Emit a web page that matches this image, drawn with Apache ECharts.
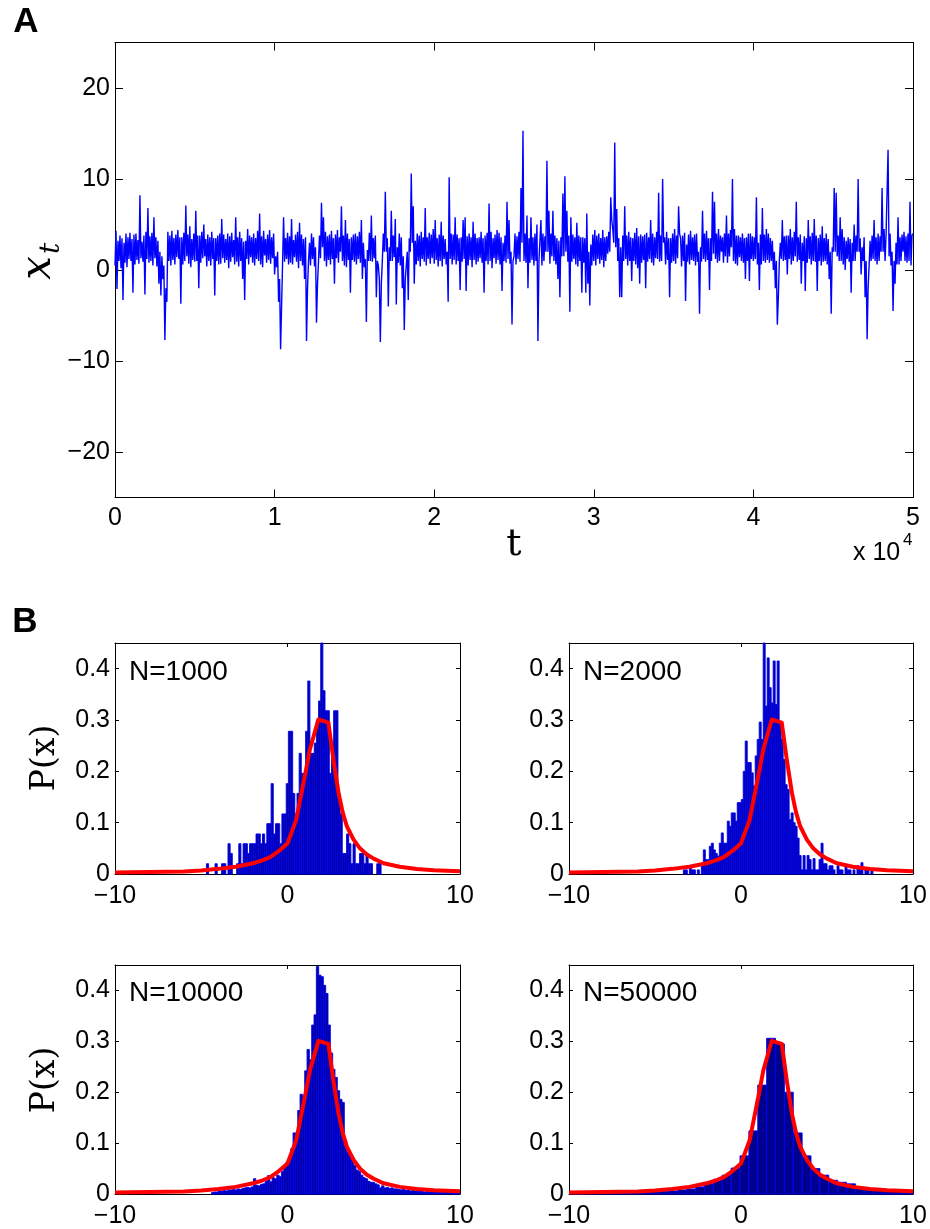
<!DOCTYPE html>
<html><head><meta charset="utf-8">
<script src="https://cdn.jsdelivr.net/npm/echarts@6/dist/echarts.min.js"></script>
<style>html,body{margin:0;padding:0;background:#fff}#c{width:930px;height:1229px}</style>
</head><body><div id="c"></div>
<script>
// ---------- Panel A: time series (one reading every 62.5 time steps) ----------
const tsStep = 62.5;
const tsValues = [
0.5,4.3,-2.1,3.2,1.0,3.8,0.2,3.5,-3.3,3.0,0.8,4.0,0.3,3.6,1.2,4.1,
1.0,3.4,-2.5,3.9,0.6,4.0,1.1,3.3,0.7,8.2,1.3,3.1,0.9,3.8,-2.7,4.2,
1.2,6.8,0.8,3.7,1.0,4.1,0.5,5.8,1.3,3.6,0.4,3.2,-1.5,2.0,-2.8,1.5,
-1.0,0.5,-7.7,-2.0,-3.5,4.2,1.0,3.8,0.5,4.3,1.1,3.5,0.6,3.9,1.4,4.4,
1.2,3.6,-3.7,3.6,0.6,4.1,1.0,7.1,1.5,3.9,0.7,4.8,0.3,3.4,1.1,4.0,
0.9,6.5,1.0,3.8,-2.0,3.8,0.8,4.2,1.3,5.0,1.5,3.4,0.4,3.9,1.0,3.6,
0.5,4.2,1.2,3.5,-2.8,3.5,1.0,3.8,0.6,4.0,0.7,5.6,1.3,3.9,0.8,3.4,
1.1,4.0,0.2,3.7,0.9,4.1,1.4,3.3,0.6,5.8,0.9,3.6,0.4,4.2,1.0,3.5,
-1.0,3.1,-3.3,3.2,1.2,4.5,0.6,3.8,1.4,3.6,0.8,4.0,0.5,3.5,1.2,4.3,
1.0,6.2,0.6,3.7,0.3,4.3,1.6,3.4,0.8,3.9,1.1,4.4,0.7,3.6,1.3,4.0,
-0.5,1.5,0.3,2.0,-3.5,-1.0,-8.7,-4.0,0.8,5.8,0.9,3.5,1.2,4.1,0.6,3.7,
0.8,5.6,0.6,3.3,1.4,3.9,0.9,4.2,0.2,5.2,1.0,3.9,0.5,3.4,-1.0,3.6,
-7.8,-2.0,1.0,3.0,0.5,4.0,1.2,3.6,0.4,2.5,-5.8,-1.5,0.9,3.8,1.3,7.4,
2.5,5.8,1.0,4.2,0.4,3.7,1.1,3.9,0.6,4.3,1.2,3.5,-1.5,3.9,1.3,4.4,
0.8,3.6,2.0,7.0,1.0,3.8,0.5,5.5,0.3,4.0,1.1,3.4,-2.5,3.6,1.1,3.9,
0.9,4.0,0.6,3.7,1.2,4.2,0.8,5.5,-1.0,3.0,0.3,1.2,-5.7,2.2,1.0,4.1,
1.0,6.0,0.9,3.5,1.3,3.8,-3.0,1.0,0.5,-1.0,-7.9,-1.5,1.0,4.0,2.0,8.6,
2.0,3.5,-4.0,2.5,1.0,6.5,1.0,3.8,1.4,5.6,-3.8,2.5,0.8,4.0,0.5,3.6,
-2.0,1.5,-6.6,-1.0,0.5,2.0,-3.3,3.5,2.0,10.6,3.0,7.0,-1.5,3.2,0.6,4.0,
1.0,3.8,0.4,4.2,1.2,3.6,0.9,6.8,0.5,3.6,1.2,4.1,0.7,3.9,1.3,4.5,
0.7,5.5,1.1,3.5,0.4,3.9,1.0,5.3,0.4,3.8,1.2,3.4,0.6,2.0,-3.5,10.2,
1.2,4.0,0.6,3.9,1.1,5.8,0.6,3.9,1.0,3.5,-2.2,3.6,0.9,5.5,1.2,5.8,
-2.3,3.7,0.5,4.0,1.1,3.6,0.3,5.3,1.1,4.0,0.6,3.5,0.9,3.6,1.3,4.2,
0.8,3.5,-2.5,3.8,1.0,4.1,0.6,7.3,1.0,4.2,0.2,3.5,1.3,3.9,0.7,4.4,
1.1,4.1,0.6,3.6,-2.3,3.0,1.0,3.8,0.8,7.5,1.2,5.5,0.7,2.0,-6.0,1.0,
1.5,4.0,0.6,3.7,1.2,4.2,0.9,9.0,3.0,15.3,1.0,4.0,0.8,6.0,-2.0,3.5,
0.8,5.8,1.1,3.6,0.5,4.0,1.0,5.0,-7.8,1.0,1.2,5.5,0.5,4.0,1.0,3.7,
2.0,12.0,2.0,6.5,0.7,4.0,1.5,6.5,1.0,3.8,0.6,3.5,-1.0,3.2,-3.0,3.6,
1.5,8.4,1.5,10.3,2.0,6.5,0.9,3.8,-4.6,5.8,0.9,3.9,1.2,3.6,0.6,5.2,
0.4,3.8,1.0,3.6,-2.5,3.6,0.8,3.5,-2.5,6.2,-1.5,2.0,-3.9,2.8,0.5,3.9,
1.0,4.4,0.5,3.8,1.2,4.0,0.7,3.5,1.1,4.4,0.3,3.6,1.0,3.7,1.8,4.2,
2.0,8.0,5.5,4.5,3.0,14.0,2.5,6.7,1.0,3.5,-3.0,2.5,-3.0,3.8,1.0,7.0,
1.2,3.8,0.5,4.2,1.0,3.6,-1.2,3.5,1.0,4.1,0.6,4.6,0.2,3.7,-1.5,3.9,
0.8,3.7,1.1,3.9,-2.0,4.1,0.9,3.6,1.2,5.5,0.8,4.0,0.5,3.6,1.3,4.2,
1.2,8.5,0.9,3.8,1.0,10.0,3.0,3.6,0.6,4.2,1.1,3.5,-3.0,3.5,0.8,4.0,
1.0,4.5,0.7,3.8,1.3,7.0,4.0,3.5,0.4,3.8,1.0,4.1,-3.4,2.8,0.9,3.9,
0.6,4.3,1.1,3.6,1.0,3.9,0.5,4.0,0.9,2.0,-4.8,2.5,0.9,6.5,1.2,4.0,
0.9,4.3,1.1,3.5,-2.2,3.5,1.0,8.6,1.8,7.5,1.2,4.0,0.8,4.5,1.0,3.8,
2.0,3.6,0.8,4.0,1.5,6.0,0.8,4.0,1.5,4.4,2.5,10.0,1.0,4.5,0.7,3.8,
0.5,3.8,1.4,3.6,1.0,4.0,0.8,3.5,-1.0,3.6,1.0,4.0,-1.2,4.0,1.2,3.7,
1.0,3.6,1.2,8.0,0.6,3.0,-2.2,3.9,0.6,6.8,1.0,3.9,0.8,4.5,1.1,4.0,
0.8,3.5,1.0,3.2,0.0,2.0,-2.0,1.0,-6.0,-3.0,1.0,3.0,1.2,5.5,1.0,3.7,
1.1,3.8,-0.5,3.8,1.2,4.5,0.6,3.6,1.0,4.2,1.5,7.5,0.9,3.6,1.1,3.9,
-1.5,3.0,1.0,3.7,-2.3,3.5,0.8,5.5,1.2,3.7,0.6,4.1,1.0,5.6,0.9,3.8,
-2.3,3.5,1.0,3.9,0.5,4.8,0.9,3.5,1.0,4.0,0.6,3.4,-1.0,2.0,-4.8,2.5,
2.0,9.0,2.0,8.5,1.5,3.8,1.0,5.8,1.0,4.5,0.6,3.6,0.0,3.2,1.2,3.6,
0.9,3.4,-2.5,3.0,1.0,5.0,1.0,3.8,2.0,10.0,2.0,3.5,-0.5,2.5,1.0,3.6,
-3.0,1.0,-7.6,-2.0,0.5,3.2,1.0,3.8,1.2,5.5,1.0,3.6,0.6,4.0,1.0,3.7,
2.0,9.0,2.0,4.5,1.0,3.9,4.0,13.2,1.5,4.0,0.5,2.0,-4.5,1.0,-1.5,3.0,
0.6,5.8,0.6,3.6,1.0,3.9,2.0,4.2,1.0,3.7,0.8,4.0,1.0,7.5,0.5,3.8,
4.0
];
const tsXTicks = [0, 10000, 20000, 30000, 40000, 50000];
const tsYTicks = [-20, -10, 0, 10, 20];

// ---------- Panel B: histograms ----------
const histLabels = ['N=1000', 'N=2000', 'N=10000', 'N=50000'];
const hist1000Start = -4.70, hist1000Width = 0.125;
const hist1000 = [0.02,0,0,0,0.02,0,0,0.02,0.02,0,0.059,0.04,0,0,0.02,0.059,0.02,0.059,0.059,0.04,0.059,0.059,0.059,0.078,0.078,0.059,0.078,0.059,0.098,0.098,0.176,0.078,0.098,0.098,0.059,0.117,0.117,0.176,0.278,0.278,0.157,0.117,0.157,0.235,0.196,0.196,0.278,0.376,0.235,0.235,0.255,0.3,0.337,0.45,0.357,0.318,0.318,0.196,0.255,0.318,0.318,0.157,0.117,0.04,0.04,0.078,0.059,0.02,0.059,0.02,0.02,0.04,0.04,0.02,0.04,0.02,0.02,0,0,0.02,0.02];
const hist2000Start = -3.35, hist2000Width = 0.116;
const hist2000 = [0.008,0.008,0,0.016,0.008,0.008,0,0.008,0,0.016,0.047,0.028,0.028,0.054,0.06,0.047,0.04,0.035,0.06,0.08,0.06,0.06,0.103,0.093,0.119,0.119,0.103,0.139,0.139,0.145,0.2,0.259,0.217,0.217,0.197,0.171,0.23,0.262,0.296,0.262,0.45,0.327,0.421,0.363,0.333,0.415,0.33,0.415,0.295,0.262,0.223,0.174,0.165,0.106,0.119,0.1,0.093,0.07,0.036,0.008,0.036,0.008,0.036,0.028,0.008,0.03,0.008,0.008,0.028,0.06,0.02,0.02,0.008,0.016,0.016,0.008,0,0.016,0.008,0.008,0,0.016,0.008,0.008,0,0.008,0,0.016,0.008,0.022,0,0.008,0.008,0,0.008];
const hist10000Start = -4.402, hist10000Width = 0.135;
const hist10000 = [0.003,0.004,0.004,0.006,0.006,0.007,0.006,0.008,0.008,0.009,0.008,0.01,0.009,0.011,0.012,0.013,0.012,0.014,0.03,0.017,0.016,0.019,0.02,0.025,0.036,0.024,0.032,0.03,0.037,0.034,0.044,0.053,0.063,0.07,0.089,0.12,0.12,0.164,0.196,0.193,0.242,0.284,0.264,0.332,0.352,0.447,0.43,0.427,0.41,0.394,0.332,0.277,0.245,0.229,0.203,0.186,0.18,0.105,0.082,0.076,0.066,0.056,0.047,0.044,0.037,0.032,0.03,0.025,0.023,0.023,0.02,0.018,0.012,0.016,0.012,0.013,0.011,0.012,0.01,0.01,0.009,0.008,0.01,0.007,0.008,0.006,0.007,0.006,0.005,0.006,0.005,0.004,0.005,0.004,0.004,0.005,0.003,0.004,0.003,0.003,0.004,0.003,0.003,0.002,0.003,0.002,0.002];
const hist50000Start = -9.862, hist50000Width = 0.516;
const hist50000 = [0.002,0.002,0.003,0.003,0.003,0.003,0.004,0.004,0.004,0.005,0.005,0.006,0.008,0.01,0.014,0.02,0.029,0.037,0.051,0.075,0.124,0.214,0.306,0.295,0.2,0.12,0.075,0.05,0.037,0.027,0.023,0.02,0.012,0.01,0.008,0.006,0.005,0.004,0.004];

// fitted density curve (red)
const curveX = [-10,-8,-6,-5,-4,-3,-2,-1.5,-1,-0.5,0,0.5,1,1.3,1.79,2.37,2.66,2.96,3.2,3.44,3.83,4.2,4.6,5,5.57,6.5,7.5,8.5,10];
const curveY = [0.003,0.004,0.005,0.007,0.01,0.014,0.021,0.026,0.033,0.045,0.06,0.105,0.19,0.243,0.301,0.295,0.223,0.158,0.12,0.093,0.067,0.05,0.038,0.03,0.021,0.014,0.0098,0.0075,0.0052];
const histXTicks = [-10, 0, 10];
const histYTicks = [0, 0.1, 0.2, 0.3, 0.4];

// ---------- build chart ----------
const chart = echarts.init(document.getElementById('c'), null, {renderer: 'canvas'});
const FONT = '"Liberation Sans", Arial, sans-serif';
const SERIF = '"DejaVu Serif", "Liberation Serif", serif';
const minus = v => String(v).replace('-', '\u2212');

const grids = [
  {left: 115, top: 42.5, width: 798, height: 455},
  {left: 115, top: 643, width: 345, height: 231},
  {left: 569, top: 643, width: 344, height: 231},
  {left: 115, top: 965, width: 345, height: 231},
  {left: 569, top: 965, width: 344, height: 231}
];
const xAxes = [], yAxes = [];
function addAxes(g, xr, yr, xt, yt, tickLen, xfmt, xMargin) {
  const line = {show: true, onZero: false, lineStyle: {color: '#000', width: 1}};
  const tick = {show: true, inside: true, length: tickLen, lineStyle: {color: '#000', width: 1}};
  const lab = {color: '#000', fontSize: 25, fontFamily: FONT};
  xAxes.push({type: 'value', gridIndex: g, position: 'bottom', min: xr[0], max: xr[1],
    axisLine: line, axisTick: Object.assign({customValues: xt}, tick),
    axisLabel: Object.assign({customValues: xt, margin: xMargin, formatter: xfmt}, lab),
    splitLine: {show: false}});
  xAxes.push({type: 'value', gridIndex: g, position: 'top', min: xr[0], max: xr[1],
    axisLine: line, axisTick: Object.assign({customValues: xt}, tick),
    axisLabel: {show: false}, splitLine: {show: false}});
  yAxes.push({type: 'value', gridIndex: g, position: 'left', min: yr[0], max: yr[1],
    axisLine: line, axisTick: Object.assign({customValues: yt}, tick),
    axisLabel: Object.assign({customValues: yt, margin: 5, formatter: minus}, lab),
    splitLine: {show: false}});
  yAxes.push({type: 'value', gridIndex: g, position: 'right', min: yr[0], max: yr[1],
    axisLine: line, axisTick: Object.assign({customValues: yt}, tick),
    axisLabel: {show: false}, splitLine: {show: false}});
}
addAxes(0, [0, 50000], [-25, 25], tsXTicks, tsYTicks, 8, v => String(v / 10000), 8);
for (let g = 1; g <= 4; g++) addAxes(g, [-10, 10], [0, 0.45], histXTicks, histYTicks, 4, minus, 10);

const series = [];
series.push({type: 'line', xAxisIndex: 0, yAxisIndex: 0, showSymbol: false, symbol: 'none',
  data: tsValues.map((v, i) => [i * tsStep, v]),
  lineStyle: {color: '#0000ff', width: 1.4}, itemStyle: {color: '#0000ff'}, animation: false});

function histSeries(g, heights, start, w) {
  return {type: 'custom', xAxisIndex: 2 * g, yAxisIndex: 2 * g, animation: false,
    data: heights.map((h, i) => [start + (i + 0.5) * w, h]),
    encode: {x: 0, y: 1},
    renderItem: function (params, api) {
      const c = api.value(0), h = api.value(1);
      if (!(h > 0)) return null;
      const p0 = api.coord([c - w / 2, h]);
      const p1 = api.coord([c + w / 2, 0]);
      const cs = params.coordSys;
      const r = echarts.graphic.clipRectByRect(
        {x: p0[0], y: p0[1], width: p1[0] - p0[0], height: p1[1] - p0[1]},
        {x: cs.x, y: cs.y, width: cs.width, height: cs.height});
      if (!r) return null;
      return {type: 'rect', shape: r, style: {fill: '#00008f', stroke: '#0000ff', lineWidth: 0.9}};
    }};
}
series.push(histSeries(1, hist1000, hist1000Start, hist1000Width));
series.push(histSeries(2, hist2000, hist2000Start, hist2000Width));
series.push(histSeries(3, hist10000, hist10000Start, hist10000Width));
series.push(histSeries(4, hist50000, hist50000Start, hist50000Width));
for (let g = 1; g <= 4; g++) {
  series.push({type: 'line', xAxisIndex: 2 * g, yAxisIndex: 2 * g, symbol: 'none', showSymbol: false,
    z: 5, animation: false, clip: true,
    data: curveX.map((x, i) => [x, curveY[i]]),
    lineStyle: {color: '#ff0000', width: 4, join: 'round'}, itemStyle: {color: '#ff0000'}});
}

const graphic = [
  {type: 'text', x: 26, y: 22, style: {text: 'A', font: 'bold 35px ' + FONT, fill: '#000', align: 'center', verticalAlign: 'middle'}},
  {type: 'text', x: 25, y: 622, style: {text: 'B', font: 'bold 35px ' + FONT, fill: '#000', align: 'center', verticalAlign: 'middle'}},
  // y label of panel A: x with subscript t, reading bottom to top
  {type: 'group', x: 45, y: 261, rotation: Math.PI / 2, children: [
    {type: 'text', x: 5, y: -6, style: {text: 'x', font: 'italic 42px ' + SERIF, fill: '#000', align: 'right', verticalAlign: 'middle'}},
    {type: 'text', x: 7, y: 7, style: {text: 't', font: 'italic 28px ' + SERIF, fill: '#000', align: 'left', verticalAlign: 'middle'}}
  ]},
  {type: 'text', x: 45, y: 758, rotation: Math.PI / 2, style: {text: 'P(x)', font: '33px ' + SERIF, fill: '#000', align: 'center', verticalAlign: 'middle'}},
  {type: 'text', x: 45, y: 1080, rotation: Math.PI / 2, style: {text: 'P(x)', font: '33px ' + SERIF, fill: '#000', align: 'center', verticalAlign: 'middle'}},
  {type: 'text', x: 514, y: 545, style: {text: 't', font: '38px ' + SERIF, fill: '#000', align: 'center', verticalAlign: 'middle'}},
  {type: 'text', x: 853, y: 553, style: {text: 'x 10', font: '25px ' + FONT, fill: '#000', align: 'left', verticalAlign: 'middle'}},
  {type: 'text', x: 903, y: 540, style: {text: '4', font: '17px ' + FONT, fill: '#000', align: 'left', verticalAlign: 'middle'}},
  {type: 'text', x: 129, y: 672, style: {text: histLabels[0], font: '28px ' + FONT, fill: '#000', align: 'left', verticalAlign: 'middle'}},
  {type: 'text', x: 583, y: 672, style: {text: histLabels[1], font: '28px ' + FONT, fill: '#000', align: 'left', verticalAlign: 'middle'}},
  {type: 'text', x: 129, y: 993, style: {text: histLabels[2], font: '28px ' + FONT, fill: '#000', align: 'left', verticalAlign: 'middle'}},
  {type: 'text', x: 583, y: 993, style: {text: histLabels[3], font: '28px ' + FONT, fill: '#000', align: 'left', verticalAlign: 'middle'}}
];

chart.setOption({
  animation: false,
  backgroundColor: '#fff',
  grid: grids,
  xAxis: xAxes,
  yAxis: yAxes,
  series: series,
  graphic: graphic
});
</script></body></html>
